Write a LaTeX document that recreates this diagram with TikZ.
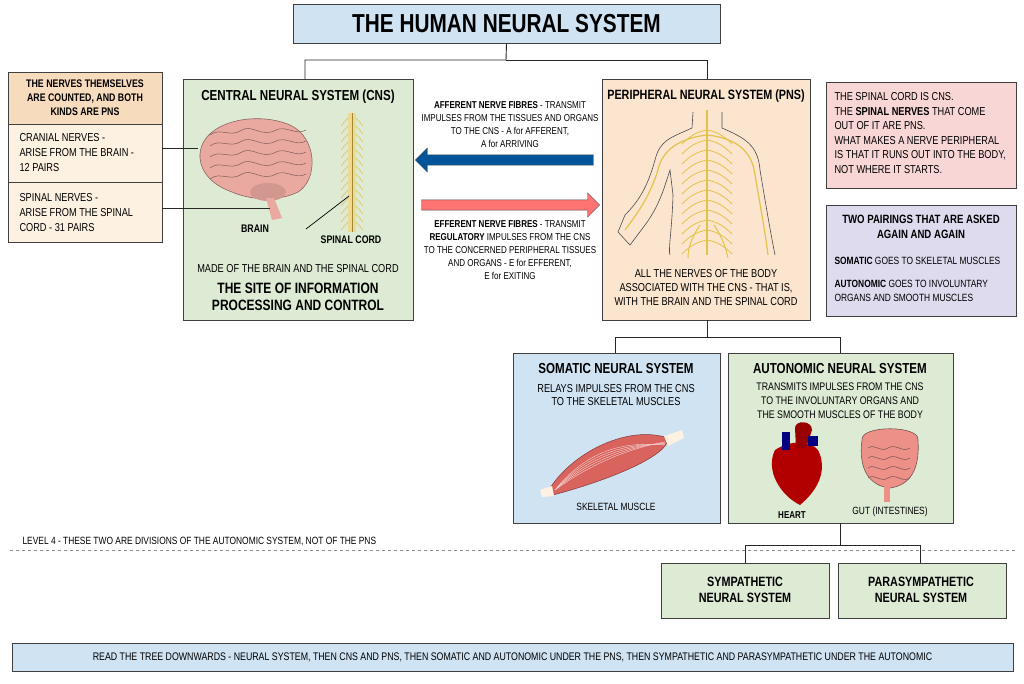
\documentclass[tikz,border=0pt]{standalone}
\usepackage{fontspec}
\setmainfont{Liberation Sans}[FakeStretch=0.8]
\usetikzlibrary{arrows.meta,shapes.arrows}
\definecolor{tblue}{HTML}{CFE3F3}
\definecolor{tgreen}{HTML}{DDEBD5}
\definecolor{tpeach}{HTML}{FBE5CF}
\definecolor{tpeachd}{HTML}{F7DBBD}
\definecolor{tpeachl}{HTML}{FDF1E2}
\definecolor{tpink}{HTML}{F9D6D6}
\definecolor{tpurple}{HTML}{DEDBEF}
\definecolor{nerve}{HTML}{E3C24A}
\definecolor{brainc}{HTML}{E9A9A0}
\definecolor{muscle}{HTML}{D9645E}
\tikzset{
 boxs/.style={draw=black!75,line width=0.8pt},
 lbl/.style={font=\fontsize{11.5}{13.5}\selectfont,align=center},
 ttl/.style={font=\fontsize{14.5}{17}\selectfont\bfseries,align=center},
 conn/.style={draw=black!85,line width=0.9pt},
 nv/.style={draw=nerve,line width=1pt}
}
\begin{document}
\begin{tikzpicture}[x=1pt,y=-1pt]
\useasboundingbox[fill=white] (0,0) rectangle (1024,683);
% title
\node[boxs,fill=tblue,minimum width=427,minimum height=39,font=\fontsize{26}{28}\selectfont\bfseries] (title) at (506.5,23.5) {THE HUMAN NEURAL SYSTEM};
% CNS
\draw[boxs,fill=tgreen] (183,79) rectangle (413,320);
\coordinate (cnstop) at (305,79);
\node[ttl] (cnst) at (298,97) {CENTRAL NEURAL SYSTEM (CNS)};
% brain
\def\brainpath{(200,158) .. controls (198,122) and (255,110) .. (290,125) .. controls (318,138) and (318,180) .. (298,192) .. controls (278,202) and (250,200) .. (232,192) .. controls (212,185) and (201,172) .. (200,158) -- cycle}
\fill[brainc] \brainpath;
\draw[brainc!60!black,line width=0.6pt] \brainpath;
\foreach \yy in {130,141,152,163,174} {
 \draw[brainc!55!black,line width=0.5pt] (210,\yy+5) .. controls (220,\yy-3) and (230,\yy+8) .. (242,\yy) .. controls (252,\yy-6) and (262,\yy+8) .. (276,\yy) .. controls (286,\yy-5) and (296,\yy+6) .. (306,\yy);
}
\fill[brainc!90!black] (268,192) ellipse (18 and 9);
\fill[brainc] (266,198) -- (274,198) -- (282,218) -- (272,220) -- cycle;
\node[font=\fontsize{11}{12}\selectfont\bfseries] (brain) at (255,229) {BRAIN};
% spinal cord
\fill[nerve!60] (348,113) rectangle (356,232);
\foreach \yy in {118,126,...,226} {
 \draw[nv,line width=0.6pt] (348,\yy) -- (341,\yy+8);
 \draw[nv,line width=0.6pt] (356,\yy) -- (363,\yy+8);
}
\draw[nerve!70!black,line width=0.5pt] (352,113) -- (352,232);
\node[font=\fontsize{11}{12}\selectfont\bfseries] (spc) at (351,240) {SPINAL CORD};
\coordinate (spcp) at (349,196);
\draw[black,line width=0.7pt] (306,229) -- (spcp);
\node[lbl] (cnsmade) at (298,269) {MADE OF THE BRAIN AND THE SPINAL CORD};
\node[font=\fontsize{15}{17}\selectfont\bfseries,align=center] (cnssite) at (298,297) {THE SITE OF INFORMATION\\PROCESSING AND CONTROL};
% left box
\draw[boxs,fill=tpeachl] (8,72) rectangle (162,242);
\fill[tpeachd] (8.4,72.4) rectangle (161.6,124);
\draw[boxs] (8,72) rectangle (162,242);
\draw[boxs] (8,124) -- (162,124);
\draw[boxs] (8,182) -- (162,182);
\node[font=\fontsize{11}{14}\selectfont\bfseries,align=center] (lt) at (85,98) {THE NERVES THEMSELVES\\ARE COUNTED, AND BOTH\\KINDS ARE PNS};
\node[lbl,align=left,anchor=west,font=\fontsize{11.5}{15}\selectfont] (cran) at (16,153) {CRANIAL NERVES -\\ARISE FROM THE BRAIN -\\12 PAIRS};
\node[lbl,align=left,anchor=west,font=\fontsize{11.5}{15}\selectfont] (spin) at (16,213) {SPINAL NERVES -\\ARISE FROM THE SPINAL\\CORD - 31 PAIRS};
\coordinate (brainpt) at (198,148);
\coordinate (stempt) at (270,208);
\draw[conn] (162,148) -- (brainpt);
\draw[conn] (162,208) -- (stempt);
% arrows
\node[align=center,font=\fontsize{10}{13}\selectfont] (aff) at (510,125) {\textbf{AFFERENT NERVE FIBRES} - TRANSMIT\\IMPULSES FROM THE TISSUES AND ORGANS\\TO THE CNS - A for AFFERENT,\\A for ARRIVING};
\node[single arrow,draw=black!70,fill=blue!45!cyan!60!black,minimum height=178,minimum width=24,single arrow head extend=3,shape border rotate=180,inner sep=2pt] (barrow) at (507,160) {};
\node[single arrow,draw=black!70,fill=red!55,minimum height=178,minimum width=24,single arrow head extend=3,inner sep=2pt] (rarrow) at (508,205) {};
\node[align=center,font=\fontsize{10}{13}\selectfont] (eff) at (510,250) {\textbf{EFFERENT NERVE FIBRES} - TRANSMIT\\\textbf{REGULATORY} IMPULSES FROM THE CNS\\TO THE CONCERNED PERIPHERAL TISSUES\\AND ORGANS - E for EFFERENT,\\E for EXITING};
% PNS
\draw[boxs,fill=tpeach] (602,79) rectangle (810,320);
\coordinate (pnstop) at (707,79);
\node[ttl,font=\fontsize{13.5}{16}\selectfont\bfseries] (pnst) at (706,96) {PERIPHERAL NEURAL SYSTEM (PNS)};
\draw[black!70,line width=0.6pt] (693,112) -- (692,128) .. controls (670,138) and (660,140) .. (655,160) .. controls (648,185) and (640,200) .. (625,215) -- (618,232) -- (630,245) -- (645,225) .. controls (660,205) and (665,185) .. (670,170) -- (673,195) .. controls (672,230) and (668,250) .. (670,255);
\draw[black!70,line width=0.6pt] (722,112) -- (722,128) .. controls (745,138) and (758,145) .. (760,170) .. controls (765,200) and (770,230) .. (775,255);
\draw[nv,line width=2pt] (707,110) -- (707,255);
\foreach \yy in {130,140,...,240} {
 \draw[nv,line width=0.8pt] (707,\yy) .. controls (695,\yy+2) and (688,\yy+8) .. (682,\yy+14);
 \draw[nv,line width=0.8pt] (707,\yy) .. controls (719,\yy+2) and (726,\yy+8) .. (732,\yy+14);
}
\draw[nv,line width=1.2pt] (707,135) .. controls (680,138) and (662,150) .. (658,170) .. controls (650,195) and (640,210) .. (625,230);
\draw[nv,line width=1.2pt] (707,135) .. controls (735,138) and (752,150) .. (755,175) .. controls (760,205) and (765,230) .. (768,255);
\draw[nv,line width=1pt] (700,225) .. controls (690,240) and (688,250) .. (688,258);
\draw[nv,line width=1pt] (714,225) .. controls (724,240) and (726,250) .. (728,258);
\node[lbl,font=\fontsize{11.5}{14}\selectfont] (pnstext) at (706,288) {ALL THE NERVES OF THE BODY\\ASSOCIATED WITH THE CNS - THAT IS,\\WITH THE BRAIN AND THE SPINAL CORD};
% pink box
\draw[boxs,fill=tpink] (826,82) rectangle (1016,188);
\node[align=left,anchor=north west,font=\fontsize{11.5}{14.5}\selectfont] (pinkt) at (831,89) {THE SPINAL CORD IS CNS.\\THE \textbf{SPINAL NERVES} THAT COME\\OUT OF IT ARE PNS.\\WHAT MAKES A NERVE PERIPHERAL\\IS THAT IT RUNS OUT INTO THE BODY,\\NOT WHERE IT STARTS.};
% purple box
\draw[boxs,fill=tpurple] (826,205) rectangle (1016,316);
\node[font=\fontsize{12}{15}\selectfont\bfseries,align=center] (purt) at (921,227) {TWO PAIRINGS THAT ARE ASKED\\AGAIN AND AGAIN};
\node[anchor=west,font=\fontsize{10.5}{13}\selectfont] (pur1) at (831,261) {\textbf{SOMATIC} GOES TO SKELETAL MUSCLES};
\node[align=left,anchor=west,font=\fontsize{10.5}{14}\selectfont] (pur2) at (831,291) {\textbf{AUTONOMIC} GOES TO INVOLUNTARY\\ORGANS AND SMOOTH MUSCLES};
% somatic
\draw[boxs,fill=tblue] (513,353) rectangle (720,523);
\coordinate (somtop) at (615,353);
\node[ttl] (somt) at (616,369) {SOMATIC NEURAL SYSTEM};
\node[lbl] (somtx) at (616,395) {RELAYS IMPULSES FROM THE CNS\\TO THE SKELETAL MUSCLES};
\fill[muscle] (550,488) .. controls (575,450) and (630,425) .. (668,438) .. controls (670,455) and (610,480) .. (553,495) -- cycle;
\draw[muscle!60!black,line width=0.5pt] (550,488) .. controls (575,450) and (630,425) .. (668,438) .. controls (670,455) and (610,480) .. (553,495) -- cycle;
\foreach \k in {0.2,0.35,0.5,0.65,0.8} {
 \draw[white!70!muscle,line width=0.4pt] (555,490) .. controls (590,470-30*\k) and (630,450-10*\k) .. (665,441+5*\k);
}
\fill[tpeachl] (664,436) -- (682,430) -- (684,438) -- (668,446) -- cycle;
\fill[tpeachl] (540,490) -- (552,486) -- (554,496) -- (542,497) -- cycle;
\node[font=\fontsize{10.5}{12}\selectfont] (skm) at (616,507) {SKELETAL MUSCLE};
% autonomic
\draw[boxs,fill=tgreen] (728,353) rectangle (953,523);
\coordinate (auttop) at (840,353);
\coordinate (autbot) at (840,523);
\node[ttl] (autt) at (840,369) {AUTONOMIC NEURAL SYSTEM};
\node[lbl,font=\fontsize{11}{14}\selectfont] (auttx) at (840,401) {TRANSMITS IMPULSES FROM THE CNS\\TO THE INVOLUNTARY ORGANS AND\\THE SMOOTH MUSCLES OF THE BODY};
% heart
\fill[red!70!black] (775,450) .. controls (765,470) and (780,495) .. (800,505) .. controls (818,490) and (828,470) .. (818,450) .. controls (810,440) and (790,440) .. (775,450) -- cycle;
\fill[blue!50!black] (782,432) rectangle (790,450);
\fill[red!60!black] (795,428) .. controls (795,420) and (812,420) .. (812,430) -- (806,448) -- (796,448) -- cycle;
\fill[blue!50!black] (808,436) rectangle (818,446);
\node[font=\fontsize{10}{11}\selectfont\bfseries] (heart) at (792,515) {HEART};
% gut
\def\gutpath{(862,440) .. controls (860,425) and (920,425) .. (918,440) .. controls (920,470) and (910,485) .. (890,488) .. controls (870,486) and (858,470) .. (862,440) -- cycle}
\fill[brainc!85!red] \gutpath;
\foreach \yy in {448,458,468,478} {
 \draw[brainc!50!black,line width=0.5pt] (868,\yy) .. controls (875,\yy-5) and (880,\yy+5) .. (888,\yy) .. controls (896,\yy-5) and (902,\yy+5) .. (910,\yy);
}
\draw[brainc!50!black,line width=0.6pt] \gutpath;
\fill[brainc!85!red] (884,486) rectangle (890,502);
\node[font=\fontsize{10.5}{11}\selectfont] (gut) at (890,512) {GUT (INTESTINES)};
% level 4
\node[anchor=west,font=\fontsize{10.5}{11}\selectfont] (lvl) at (19,541) {LEVEL 4 - THESE TWO ARE DIVISIONS OF THE AUTONOMIC SYSTEM, NOT OF THE PNS};
\draw[black!45,dashed,line width=0.7pt] (10,550) -- (1015,550);
% sym/parasym
\draw[boxs,fill=tgreen] (661,563) rectangle (829,618);
\coordinate (symtop) at (745,563);
\node[ttl,font=\fontsize{13.5}{16}\selectfont\bfseries] (sym) at (745,590) {SYMPATHETIC\\NEURAL SYSTEM};
\draw[boxs,fill=tgreen] (838,563) rectangle (1006,618);
\coordinate (partop) at (920,563);
\node[ttl,font=\fontsize{13.5}{16}\selectfont\bfseries] (par) at (921,590) {PARASYMPATHETIC\\NEURAL SYSTEM};
% bottom
\node[boxs,fill=tblue,minimum width=1001,minimum height=28,font=\fontsize{11}{13}\selectfont] (bot) at (512.5,657) {READ THE TREE DOWNWARDS - NEURAL SYSTEM, THEN CNS AND PNS, THEN SOMATIC AND AUTONOMIC UNDER THE PNS, THEN SYMPATHETIC AND PARASYMPATHETIC UNDER THE AUTONOMIC};
% tree connectors
\coordinate (pnsbot) at (707,320);
\draw[conn] (title.south) -- (506,60) -| (cnstop);
\draw[conn] (506,60) -| (pnstop);
\draw[conn] (pnsbot) -- (707,337) -| (somtop);
\draw[conn] (707,337) -| (auttop);
\draw[conn] (autbot) -- (840,545) -| (symtop);
\draw[conn] (840,545) -| (partop);
\end{tikzpicture}
\end{document}
